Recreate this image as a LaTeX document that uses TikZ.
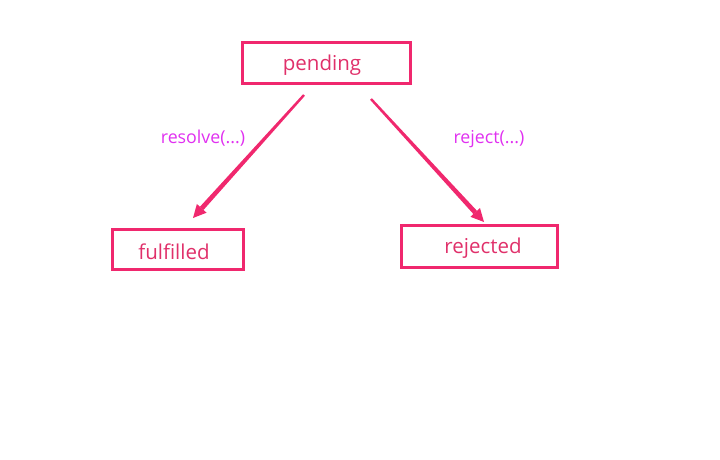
\documentclass[tikz,border=0pt]{standalone}
\usepackage{fontspec}
\setmainfont{Open Sans}
\usetikzlibrary{calc}
\definecolor{edgepink}{HTML}{F0286E}
\definecolor{textpink}{HTML}{E0306A}
\definecolor{labelmag}{HTML}{E030F0}
\tikzset{
  statebox/.style={draw=edgepink, line width=2.6pt, inner sep=0pt, anchor=center},
  statetext/.style={text=textpink, font=\fontsize{20.5}{24}\selectfont, inner sep=0pt},
  translabel/.style={text=labelmag, font=\fontsize{17.8}{20}\selectfont, inner sep=0pt}
}
\newcommand{\taperarrow}[2]{%
  \coordinate (tb) at ($(#2)!13pt!(#1)$);
  \fill[edgepink] ($(#1)!1.2pt!90:(#2)$) -- ($(tb)!2.4pt!-90:(#1)$) -- ($(tb)!2.4pt!90:(#1)$) -- ($(#1)!1.2pt!-90:(#2)$) -- cycle;
  \fill[edgepink] (#2) -- ($(tb)!6.5pt!90:(#2)$) -- ($(tb)!6.5pt!-90:(#2)$) -- cycle;
}
\begin{document}
\begin{tikzpicture}[x=1pt,y=-1pt]
\useasboundingbox (0,0) rectangle (720,460);
\node[statebox, minimum width=168pt, minimum height=41pt] (pending) at (326.5,63) {};
\node[statetext] (pendingtxt) at (322,65) {pending};
\node[statebox, minimum width=131pt, minimum height=40pt] (fulfilled) at (178,249.5) {};
\node[statetext] (fulfilledtxt) at (174,252) {fulfilled};
\node[statebox, minimum width=156pt, minimum height=42pt] (rejected) at (479.5,246.5) {};
\node[statetext] (rejectedtxt) at (483,248) {rejected};
\coordinate (l1) at (304,95);
\coordinate (l2) at (193,218);
\coordinate (r1) at (371,99);
\coordinate (r2) at (484,222);
\taperarrow{l1}{l2}
\taperarrow{r1}{r2}
\node[translabel] (reslab) at (203,138) {resolve(...)};
\node[translabel] (rejlab) at (489,139) {reject(...)};
\end{tikzpicture}
\end{document}
